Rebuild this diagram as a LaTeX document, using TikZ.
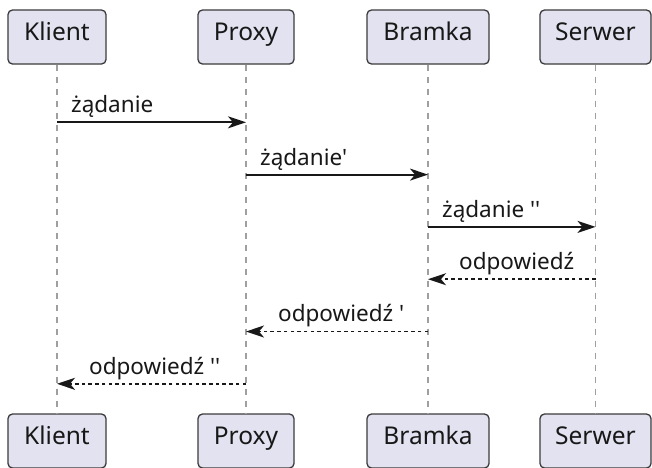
\documentclass[tikz,border=0pt]{standalone}
\usepackage{fontspec}
\setmainfont{Noto Sans}[Ligatures=TeXOff]
\usetikzlibrary{arrows.meta,calc}
\definecolor{boxfill}{HTML}{E2E2F0}
\definecolor{ink}{HTML}{181818}
\begin{document}
\begin{tikzpicture}[x=1pt,y=1pt,
  actor/.style={draw=ink!85, line width=1.3pt, fill=boxfill, rounded corners=4.5pt,
    minimum height=54pt, inner sep=0pt, font=\fontsize{24.5}{28}\selectfont, text=ink,
    text height=0.95em, text depth=0.236em},
  lifeline/.style={draw=gray!75, line width=1.3pt, dash pattern=on 6pt off 6pt},
  msg/.style={draw=ink, line width=1.8pt, -{Stealth[length=18pt,width=12pt,inset=5pt]}},
  ret/.style={msg, dash pattern=on 3.5pt off 3.2pt},
  lbl/.style={anchor=base west, inner sep=0pt, font=\fontsize{22.5}{26}\selectfont, text=ink}]
\useasboundingbox (0,0) rectangle (652,-467);
\fill[white] (0,0) rectangle (652,-467);
\begin{scope}
\clip (0,0) rectangle (652,-467);
% top boxes
\node[actor, minimum width=98pt] (Kt) at (57,-37) {Klient};
\node[actor, minimum width=96pt] (Pt) at (246,-37) {Proxy};
\node[actor, minimum width=122pt] (Bt) at (428,-37) {Bramka};
\node[actor, minimum width=111pt] (St) at (595.5,-37) {Serwer};
% bottom boxes
\node[actor, minimum width=98pt] (Kb) at (57,-441) {Klient};
\node[actor, minimum width=96pt] (Pb) at (246,-441) {Proxy};
\node[actor, minimum width=122pt] (Bb) at (428,-441) {Bramka};
\node[actor, minimum width=111pt] (Sb) at (595.5,-441) {Serwer};
\end{scope}
% lifelines
\draw[lifeline] (Kt.south) -- (Kb.north);
\draw[lifeline] (Pt.south) -- (Pb.north);
\draw[lifeline] (Bt.south) -- (Bb.north);
\draw[lifeline] (St.south) -- (Sb.north);
% message anchor points
\path (Kt.south |- 0,-122.3) coordinate (k1) (Pt.south |- 0,-122.3) coordinate (p1);
\path (Pt.south |- 0,-174.6) coordinate (p2) (Bt.south |- 0,-174.6) coordinate (b2);
\path (Bt.south |- 0,-226.9) coordinate (b3) (St.south |- 0,-226.9) coordinate (s3);
\path (St.south |- 0,-279.2) coordinate (s4) (Bt.south |- 0,-279.2) coordinate (b4);
\path (Bt.south |- 0,-331.5) coordinate (b5) (Pt.south |- 0,-331.5) coordinate (p5);
\path (Pt.south |- 0,-383.8) coordinate (p6) (Kt.south |- 0,-383.8) coordinate (k6);
% messages
\draw[msg] (k1) -- (p1);
\node[lbl] (m1) at ($(k1)+(14,9.6)$) {żądanie};
\draw[msg] (p2) -- (b2);
\node[lbl] (m2) at ($(p2)+(14,9.6)$) {żądanie'};
\draw[msg] (b3) -- (s3);
\node[lbl] (m3) at ($(b3)+(14,9.6)$) {żądanie ''};
\draw[ret] (s4) -- (b4);
\node[lbl] (m4) at ($(b4)+(31,9.6)$) {odpowiedź};
\draw[ret] (b5) -- (p5);
\node[lbl] (m5) at ($(p5)+(32,9.6)$) {odpowiedź '};
\draw[ret] (p6) -- (k6);
\node[lbl] (m6) at ($(k6)+(32,9.6)$) {odpowiedź ''};
\end{tikzpicture}
\end{document}
